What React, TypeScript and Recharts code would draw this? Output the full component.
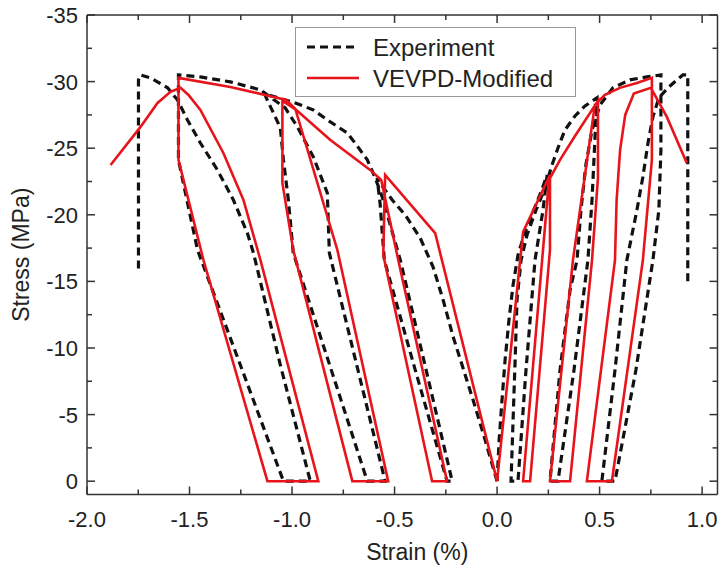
import { Line, LineChart, XAxis, YAxis } from "recharts"

// [strain %, stress MPa], in test order
const expCompression: [number, number][] = [
  [0, 0], [-0.058, -3.08], [-0.117, -6.09], [-0.166, -8.49], [-0.214, -10.82], [-0.263, -13.6],
  [-0.312, -16.08], [-0.375, -18.26], [-0.448, -19.98], [-0.511, -21.11], [-0.56, -22.16], [-0.585, -22.76],
  [-0.57, -20.74], [-0.55, -16.6], [-0.399, -8.34], [-0.244, 0], [-0.219, 0], [-0.346, -8.34],
  [-0.472, -16.6], [-0.521, -19.23], [-0.555, -21.11], [-0.594, -22.76], [-0.633, -24.12], [-0.682, -25.17],
  [-0.731, -26.15], [-0.813, -26.97], [-0.896, -27.87], [-0.984, -28.4], [-1.067, -28.78], [-1.135, -29.08],
  [-1.091, -27.65], [-1.057, -26.52], [-1.042, -24.12], [-1.018, -21.11], [-0.994, -17.13], [-0.813, -8.56],
  [-0.633, 0], [-0.546, 0], [-0.682, -8.56], [-0.818, -17.13], [-0.828, -21.64], [-0.896, -24.34],
  [-0.974, -26.6], [-1.033, -28.02], [-1.154, -29.38], [-1.301, -29.98], [-1.447, -30.35], [-1.554, -30.5],
  [-1.554, -27.12], [-1.554, -24.12], [-1.461, -17.36], [-1.252, -8.72], [-1.042, 0], [-0.911, 0],
  [-1.057, -8.72], [-1.188, -17.13], [-1.218, -18.63], [-1.286, -21.11], [-1.364, -23.37], [-1.447, -25.39],
  [-1.51, -27.12], [-1.559, -28.63], [-1.607, -29.53], [-1.69, -30.28], [-1.739, -30.5], [-1.749, -30.13],
  [-1.749, -15.7],
]

const expTension: [number, number][] = [
  [0, 0], [0.01, -3.08], [0.024, -6.09], [0.039, -9.09], [0.058, -12.1], [0.078, -14.73],
  [0.102, -16.98], [0.136, -18.71], [0.175, -20.21], [0.214, -21.71], [0.244, -22.99],
  [0.224, -20.36], [0.185, -16.6], [0.141, -8.34], [0.102, 0], [0.068, 0],
  [0.078, -4.58], [0.088, -9.09], [0.097, -13.6], [0.117, -16.6], [0.146, -18.48], [0.19, -20.36],
  [0.234, -22.01], [0.268, -23.74], [0.297, -25.02], [0.331, -26.37], [0.38, -27.42], [0.429, -28.17],
  [0.487, -28.78], [0.477, -25.62], [0.463, -21.11], [0.443, -16.6], [0.375, -8.34], [0.297, 0],
  [0.258, 0], [0.307, -8.34], [0.356, -14.35], [0.39, -16.6], [0.409, -20.36], [0.433, -23.74],
  [0.463, -26.37], [0.502, -28.25], [0.565, -29.53], [0.648, -30.13], [0.731, -30.35], [0.799, -30.5],
  [0.799, -24.87], [0.789, -20.36], [0.76, -16.6], [0.677, -8.34], [0.575, 0], [0.511, 0],
  [0.575, -8.34], [0.633, -16.6], [0.682, -20.36], [0.711, -22.84], [0.736, -25.39], [0.76, -27.35],
  [0.789, -28.78], [0.833, -29.53], [0.877, -30.13], [0.906, -30.5], [0.93, -30.5], [0.93, -14.88],
]

const modelCompression: [number, number][] = [
  [0, 0], [-0.302, -18.63], [-0.546, -22.99], [-0.555, -16.98], [-0.317, 0], [-0.244, 0],
  [-0.482, -16.6], [-0.565, -22.61], [-0.619, -23.37], [-0.813, -25.62], [-0.979, -27.87], [-1.047, -28.55],
  [-1.047, -22.39], [-0.994, -17.36], [-0.706, 0], [-0.531, 0], [-0.779, -17.36], [-0.984, -27.95],
  [-1.028, -28.62], [-1.301, -29.6], [-1.554, -30.28], [-1.554, -24.12], [-1.432, -16.6], [-1.12, 0],
  [-0.872, 0], [-1.154, -16.6], [-1.237, -21.11], [-1.335, -24.64], [-1.447, -27.87], [-1.505, -29.0],
  [-1.544, -29.53], [-1.593, -29.23], [-1.656, -28.4], [-1.739, -26.6], [-1.885, -23.74],
]

const modelTension: [number, number][] = [
  [0, 0], [0.127, -18.71], [0.258, -22.99], [0.258, -17.36], [0.161, 0], [0.127, 0],
  [0.224, -17.36], [0.253, -22.61], [0.307, -24.12], [0.38, -25.92], [0.492, -28.55], [0.492, -22.76],
  [0.463, -16.6], [0.356, 0], [0.258, 0], [0.37, -16.6], [0.477, -28.25], [0.526, -29.0],
  [0.599, -29.53], [0.682, -29.9], [0.755, -30.28], [0.755, -24.12], [0.711, -16.6], [0.56, 0],
  [0.438, 0], [0.575, -16.6], [0.583, -21.11], [0.6, -24.87], [0.625, -27.5], [0.667, -29.1],
  [0.75, -29.53], [0.828, -27.35], [0.925, -23.89],
]

const xTicks = [-2, -1.75, -1.5, -1.25, -1, -0.75, -0.5, -0.25, 0, 0.25, 0.5, 0.75, 1]
const yTicks = [0, -2.5, -5, -7.5, -10, -12.5, -15, -17.5, -20, -22.5, -25, -27.5, -30, -32.5, -35]

const toRows = (pts: [number, number][]) => pts.map(([strain, stress]) => ({ strain, stress }))

const FONT = "'Liberation Sans', Arial, sans-serif"
const AXIS = "#333"
const RED = "#e8141c"
const X_DOMAIN: [number, number] = [-2, 1.075]
const Y_DOMAIN: [number, number] = [-35, 1]

const isMajor = (v: number, step: number) => Math.abs(v / step - Math.round(v / step)) < 1e-6

function BottomTick({ x, y, payload }: any) {
  const major = isMajor(payload.value, 0.5)
  return (
    <g>
      <line x1={x} x2={x} y1={y} y2={y - (major ? 8 : 5)} stroke={AXIS} strokeWidth={1.5} />
      {major && (
        <text x={x} y={y + 32} textAnchor="middle" fontSize={22} fontFamily={FONT} fill="#222">
          {payload.value.toFixed(1)}
        </text>
      )}
    </g>
  )
}

function TopTick({ x, y, payload }: any) {
  const major = isMajor(payload.value, 0.5)
  return <line x1={x} x2={x} y1={y} y2={y + (major ? 8 : 5)} stroke={AXIS} strokeWidth={1.5} />
}

function LeftTick({ x, y, payload }: any) {
  const major = isMajor(payload.value, 5)
  return (
    <g>
      <line x1={x} x2={x + (major ? 8 : 5)} y1={y} y2={y} stroke={AXIS} strokeWidth={1.5} />
      {major && (
        <text x={x - 9} y={y} dy="0.36em" textAnchor="end" fontSize={22} fontFamily={FONT} fill="#222">
          {payload.value}
        </text>
      )}
    </g>
  )
}

function RightTick({ x, y, payload }: any) {
  const major = isMajor(payload.value, 5)
  return <line x1={x} x2={x - (major ? 8 : 5)} y1={y} y2={y} stroke={AXIS} strokeWidth={1.5} />
}

const legendItems = [
  { name: "Experiment", color: "#111", dash: "8 5", width: 3.2 },
  { name: "VEVPD-Modified", color: RED, dash: undefined, width: 2.6 },
]

export default function App() {
  return (
    <div style={{ position: "absolute", left: 0, top: 0, width: 721, height: 574, background: "#fff" }}>
      <LineChart width={721} height={574} margin={{ top: 14, right: 2.5, bottom: 0, left: 0 }}>
        <XAxis
          dataKey="strain"
          type="number"
          domain={X_DOMAIN}
          allowDataOverflow
          ticks={xTicks}
          interval={0}
          height={79.5}
          tickSize={0}
          tickMargin={0}
          tickLine={false}
          tick={<BottomTick />}
          axisLine={{ stroke: AXIS, strokeWidth: 1.5 }}
          label={{ value: "Strain (%)", position: "insideBottom", offset: 14, dx: 15, fontSize: 23, fontFamily: FONT, fill: "#222" }}
        />
        <XAxis
          xAxisId="top"
          dataKey="strain"
          orientation="top"
          type="number"
          domain={X_DOMAIN}
          allowDataOverflow
          ticks={xTicks}
          interval={0}
          height={1}
          tickSize={0}
          tickMargin={0}
          tickLine={false}
          tick={<TopTick />}
          axisLine={{ stroke: AXIS, strokeWidth: 1.5 }}
        />
        <YAxis
          type="number"
          domain={Y_DOMAIN}
          reversed
          allowDataOverflow
          ticks={yTicks}
          interval={0}
          width={87}
          tickSize={0}
          tickMargin={0}
          tickLine={false}
          tick={<LeftTick />}
          axisLine={{ stroke: AXIS, strokeWidth: 1.5 }}
          label={{ value: "Stress (MPa)", angle: -90, position: "insideLeft", offset: 21, style: { textAnchor: "middle" }, fontSize: 23, fontFamily: FONT, fill: "#222" }}
        />
        <YAxis
          yAxisId="right"
          orientation="right"
          type="number"
          domain={Y_DOMAIN}
          reversed
          allowDataOverflow
          ticks={yTicks}
          interval={0}
          width={1}
          tickSize={0}
          tickMargin={0}
          tickLine={false}
          tick={<RightTick />}
          axisLine={{ stroke: AXIS, strokeWidth: 1.5 }}
        />
        <Line data={toRows(expCompression)} dataKey="stress" type="linear" stroke="#111" strokeWidth={3.2} strokeDasharray="8 5" dot={false} isAnimationActive={false} />
        <Line data={toRows(expTension)} dataKey="stress" type="linear" stroke="#111" strokeWidth={3.2} strokeDasharray="8 5" dot={false} isAnimationActive={false} />
        <Line data={toRows(modelCompression)} dataKey="stress" type="linear" stroke={RED} strokeWidth={2.6} dot={false} isAnimationActive={false} />
        {/* same domains on both axis pairs, so this one also anchors the top/right frame axes */}
        <Line xAxisId="top" yAxisId="right" data={toRows(modelTension)} dataKey="stress" type="linear" stroke={RED} strokeWidth={2.6} dot={false} isAnimationActive={false} />
      </LineChart>
      <div
        style={{
          position: "absolute",
          left: 295,
          top: 27,
          width: 281,
          height: 70,
          boxSizing: "border-box",
          border: "1.5px solid #999",
          background: "#fff",
        }}
      >
        <svg width={278} height={67}>
          {legendItems.map((item, i) => (
            <g key={item.name} transform={`translate(0, ${19 + i * 31})`}>
              <line x1={11} x2={63} y1={0} y2={0} stroke={item.color} strokeWidth={item.width} strokeDasharray={item.dash} />
              <text x={77} y={0} dy="0.36em" fontSize={24} fontFamily={FONT} fill="#222">
                {item.name}
              </text>
            </g>
          ))}
        </svg>
      </div>
    </div>
  )
}
